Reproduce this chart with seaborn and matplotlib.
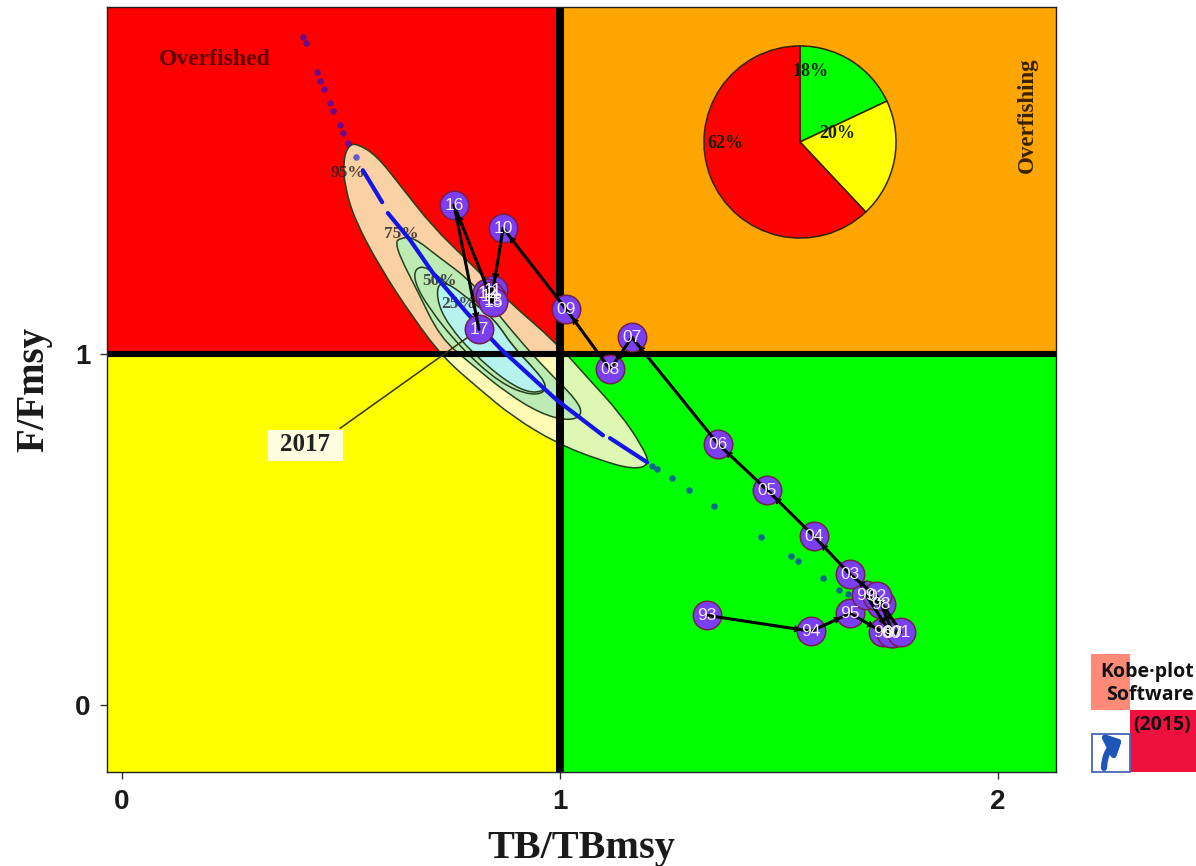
import pandas as pd
import seaborn as sns
import matplotlib.pyplot as plt
from matplotlib.patches import Rectangle, FancyArrowPatch, PathPatch
from matplotlib.path import Path

# Yearly trajectory
years = ['93', '94', '95', '96', '97', '98', '99', '00', '01', '02', '03', '04', '05', '06',
         '07', '08', '09', '10', '11', '12', '13', '14', '15', '16', '17']
tb = [1.336, 1.573, 1.662, 1.737, 1.760, 1.733, 1.699, 1.755, 1.778, 1.724, 1.662, 1.580, 1.473, 1.361,
      1.164, 1.114, 1.014, 0.870, 0.847, 0.833, 0.847, 0.840, 0.847, 0.758, 0.815]
ff = [0.256, 0.211, 0.262, 0.208, 0.205, 0.288, 0.313, 0.205, 0.208, 0.310, 0.373, 0.481, 0.613, 0.744,
      1.048, 0.957, 1.128, 1.359, 1.182, 1.174, 1.154, 1.165, 1.148, 1.425, 1.071]

# Contours for the final year
c95_x = [.537, .582, .635, .710, .788, .879, .993, 1.062, 1.137, 1.189, 1.205, 1.167, 1.091, .993, .893,
         .811, .733, .664, .589, .532, .509, .505, .517]
c95_y = [1.600, 1.565, 1.481, 1.362, 1.268, 1.154, 1.031, .934, .832, .735, .685, .672, .698, .746, .821,
         .906, .991, 1.105, 1.248, 1.382, 1.476, 1.550, 1.595]
c75_x = [.635, .664, .726, .788, .833, .902, .970, 1.039, 1.052, 1.016, .954, .879, .795, .726, .674, .635, .625]
c75_y = [1.330, 1.335, 1.274, 1.217, 1.154, 1.048, .954, .869, .825, .810, .832, .889, .974, 1.048, 1.182, 1.276, 1.320]
c50_x = [.669, .696, .742, .795, .852, .893, .938, .975, .938, .863, .772, .699, .668]
c50_y = [1.245, 1.250, 1.199, 1.154, 1.097, 1.020, .963, .900, .880, .917, 1.020, 1.134, 1.205]
c25_x = [.719, .742, .795, .852, .893, .938, .975, .938, .879, .801, .749, .722]
c25_y = [1.197, 1.205, 1.154, 1.097, 1.020, .963, .905, .886, .920, 1.003, 1.077, 1.140]

# Bootstrap cloud: dense ridge pieces and the loose points
ridge_x = [[.550, .594], [.607, .658, .710, .788, .863, .993, 1.098], [1.114, 1.199]]
ridge_y = [[1.524, 1.433], [1.402, 1.325, 1.231, 1.117, 1.017, .869, .769], [.761, .692]]
cloud_x = [.413, .420, .445, .452, .461, .475, .482, .498, .505, .516, .534,
           1.210, 1.221, 1.256, 1.295, 1.352, 1.459, 1.527, 1.543, 1.600, 1.637, 1.658]
cloud_y = [1.903, 1.886, 1.803, 1.778, 1.755, 1.715, 1.692, 1.652, 1.630, 1.601, 1.561,
           .681, .672, .647, .613, .567, .479, .425, .410, .362, .328, .316]

pie_values = [18, 20, 62]
pie_colors = ['#00ff00', '#ffff00', '#ff0000']

W, H = 1196, 866
SERIF = 'Liberation Serif'
SANS = 'Liberation Sans'


def px_rect(left, top, right, bottom):
    return [left / W, 1 - bottom / H, (right - left) / W, (bottom - top) / H]


def smooth_path(xs, ys):
    # closed quadratic spline, the read-off vertices act as control points
    pts = list(zip(xs, ys))
    mid = lambda a, b: ((a[0] + b[0]) / 2, (a[1] + b[1]) / 2)
    verts = [mid(pts[-1], pts[0])]
    codes = [Path.MOVETO]
    for i, p in enumerate(pts):
        verts += [p, mid(p, pts[(i + 1) % len(pts)])]
        codes += [Path.CURVE3, Path.CURVE3]
    return Path(verts, codes)


sns.set_theme(style='ticks')
fig = plt.figure(figsize=(W / 100, H / 100), dpi=100)
ax = fig.add_axes(px_rect(107, 7, 1056, 772))
ax.set_xlim(-0.034, 2.132)
ax.set_ylim(-0.19, 1.989)

# Quadrants
quads = {'red': (-1, 1, 1, 3, '#ff0000'), 'orange': (1, 1, 3, 3, '#ffa500'),
         'yellow': (-1, -1, 1, 1, '#ffff00'), 'green': (1, -1, 3, 1, '#00ff00')}
clips = {}
for name, (x0, y0, x1, y1, col) in quads.items():
    clips[name] = ax.add_patch(Rectangle((x0, y0), x1 - x0, y1 - y0, color=col, lw=0, zorder=0))

# 95% region takes a different tint in every quadrant
tints = {'red': '#f9d1a4', 'orange': '#fbd9a0', 'yellow': '#fffbb4', 'green': '#dcf8b2'}
for name, col in tints.items():
    poly = ax.add_patch(PathPatch(smooth_path(c95_x, c95_y), fc=col, lw=0, zorder=1))
    poly.set_clip_path(clips[name])
for cx, cy, col in [(c95_x, c95_y, 'none'), (c75_x, c75_y, '#bdebb4'),
                    (c50_x, c50_y, '#bdebb4'), (c25_x, c25_y, '#b6f2ee')]:
    ax.add_patch(PathPatch(smooth_path(cx, cy), fc=col, ec='#24401c', lw=1.1, zorder=1.2))

for lab, x, y in [('95%', .515, 1.517), ('75%', .638, 1.343), ('50%', .725, 1.209), ('25%', .768, 1.143)]:
    ax.text(x, y, lab, family=SERIF, weight='bold', size=12.5, color='#222222', alpha=.8,
            ha='center', va='center', zorder=1.6)

ax.axvline(1, color='black', lw=5.8, zorder=2)
ax.axhline(1, color='black', lw=4.4, zorder=2)

# Cloud
for rx, ry in zip(ridge_x, ridge_y):
    sns.lineplot(x=rx, y=ry, sort=False, estimator=None, color='#1414e6', lw=3.0,
                 solid_capstyle='round', ax=ax, zorder=3, legend=False)
sns.scatterplot(x=cloud_x, y=cloud_y, color='#1010e0', s=22, alpha=.62, linewidth=0, ax=ax, zorder=3)

# Label and leader for the last year
ax.annotate('', xy=(tb[-1], ff[-1]), xytext=(.498, .789), zorder=3,
            arrowprops=dict(arrowstyle='-', color='#333300', lw=1.1, shrinkA=0, shrinkB=0))
ax.add_patch(Rectangle((.333, .695), .172, .088, fc='#fffde0', ec='none', zorder=3))
ax.text(.419, .743, '2017', family=SERIF, weight='bold', size=18, color='#222222', ha='center',
        va='center', zorder=3.1)

# Trajectory
df = pd.DataFrame({'year': years, 'tb': tb, 'ff': ff})
sns.scatterplot(data=df, x='tb', y='ff', s=420, color='#7a3ff0', edgecolor='#74204f', linewidth=1.1,
                ax=ax, zorder=4, legend=False)
sns.lineplot(data=df, x='tb', y='ff', sort=False, estimator=None, color='black', lw=2.2, ax=ax,
             zorder=5, legend=False)
for i in range(1, len(df)):
    ax.annotate('', xy=(tb[i], ff[i]), xytext=(tb[i - 1], ff[i - 1]), zorder=5,
                arrowprops=dict(arrowstyle='->,head_length=0.22,head_width=0.16', color='black', lw=1.3,
                                shrinkA=0, shrinkB=8))
for i, row in df.iterrows():
    ax.text(row['tb'], row['ff'], row['year'], family=SANS, size=12.5, color='#f2eef5', ha='center',
            va='center', zorder=6)

ax.text(.212, 1.84, 'Overfished', family=SERIF, weight='bold', size=17, color='#5c0000',
        ha='center', va='center', zorder=3)
ax.text(2.066, 1.68, 'Overfishing', family=SERIF, weight='bold', size=16.5, color='#3a2200',
        rotation=90, ha='center', va='center', zorder=3)

ax.set_xticks([0, 1, 2])
ax.set_yticks([0, 1])
ax.set_xticklabels(['0', '1', '2'], family=SANS, weight='bold', size=20)
ax.set_yticklabels(['0', '1'], family=SANS, weight='bold', size=20)
ax.tick_params(length=5, width=1, color='#333333', pad=7, labelcolor='#1a1a1a')
for sp in ax.spines.values():
    sp.set_linewidth(1)
    sp.set_color('#222222')
ax.set_xlabel('TB/TBmsy', family=SERIF, weight='bold', size=29, color='#1a1a1a', labelpad=11)
ax.set_ylabel('F/Fmsy', family=SERIF, weight='bold', size=28, color='#1a1a1a', labelpad=16)

# Pie inset
ax_pie = fig.add_axes(px_rect(703, 45, 897, 239))
ax_pie.pie(pie_values, colors=pie_colors, startangle=90, counterclock=False, radius=1,
           wedgeprops=dict(edgecolor='#332200', linewidth=1.1))
ax_pie.set_xlim(-1.01, 1.01)
ax_pie.set_ylim(-1.01, 1.01)
for txt, px, py in [('18%', 811, 72), ('20%', 837, 134), ('62%', 725, 144)]:
    fig.text(px / W, 1 - py / H, txt, family=SERIF, weight='bold', size=13, color='#102000',
             ha='center', va='center', zorder=10)

# Software stamp in the corner
fig.patches.extend([
    Rectangle((1091 / W, 1 - 710 / H), 39 / W, 56 / H, transform=fig.transFigure, color='#ff8a78', lw=0),
    Rectangle((1130 / W, 1 - 772 / H), 66 / W, 62 / H, transform=fig.transFigure, color='#f0103f', lw=0),
    Rectangle((1091.5 / W, 1 - 772 / H), 38 / W, 38 / H, transform=fig.transFigure, fc='white', ec='#4a66b8', lw=1.3),
    FancyArrowPatch((1104 / W, 1 - 768 / H), (1122 / W, 1 - 740 / H), transform=fig.transFigure,
                    connectionstyle='arc3,rad=-0.3', arrowstyle='-|>,head_length=7,head_width=7',
                    color='#1f55b8', lw=4.5, shrinkA=0, shrinkB=0),
])
for txt, px, py in [('Kobe·plot', 1100, 672), ('Software', 1106, 695), ('(2015)', 1133, 725)]:
    fig.text(px / W, 1 - py / H, txt, family='Open Sans', weight='bold', size=14, color='#111111',
             ha='left', va='center')

fig.savefig('out.png', dpi=100)
